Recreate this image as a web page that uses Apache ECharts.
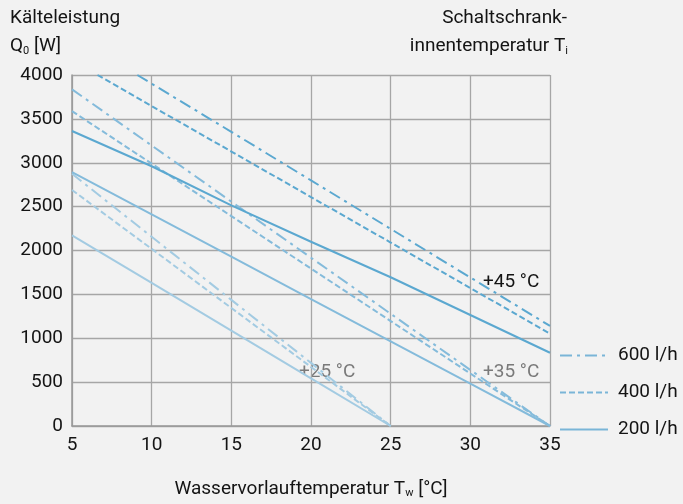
<!DOCTYPE html>
<html>
<head>
<meta charset="utf-8">
<script src="https://cdn.jsdelivr.net/npm/echarts@6/dist/echarts.min.js"></script>
<style>
  html, body { margin: 0; padding: 0; background: #f2f2f2; }
  #chart { width: 683px; height: 504px; }
</style>
</head>
<body>
<div id="chart"></div>
<script>
// Wasservorlauftemperatur [°C] / Kälteleistung [W], je Kurve [Tw, Q0]
var q45_600 = [[9.1, 4000], [15, 3352], [20, 2799], [25, 2246], [30, 1693], [35, 1140]];
var q45_400 = [[6.6, 4000], [10, 3646], [15, 3128], [20, 2609], [25, 2091], [30, 1572], [35, 1053]];
var q45_200 = [[5, 3362], [10, 2960], [15, 2515], [20, 2100], [25, 1695], [30, 1265], [35, 835]];
var q35_600 = [[5, 3836], [10, 3197], [15, 2557], [20, 1918], [25, 1279], [30, 639], [35, 0]];
var q35_400 = [[5, 3588], [10, 2990], [15, 2392], [20, 1794], [25, 1196], [30, 598], [35, 0]];
var q35_200 = [[5, 2893], [10, 2411], [15, 1929], [20, 1447], [25, 964], [30, 482], [35, 0]];
var q25_600 = [[5, 2874], [10, 2156], [15, 1437], [20, 719], [25, 0]];
var q25_400 = [[5, 2690], [10, 2018], [15, 1345], [20, 673], [25, 0]];
var q25_200 = [[5, 2173], [10, 1630], [15, 1087], [20, 543], [25, 0]];

var flowNames = ['600 l/h', '400 l/h', '200 l/h'];
var tempLabels = ['+25 °C', '+35 °C', '+45 °C'];

var FONT = 'Roboto, "DejaVu Sans", sans-serif';
var FS = 19;
var INK = '#141414';
var c45 = '#5ba8d0', c35 = '#84bbdb', c25 = '#a3cbe2', cLeg = '#7ab5d7';
var DASHDOT = [12, 5, 3, 5], DASH = [6, 3];
var subRich = { sub: { fontFamily: FONT, fontSize: 11, color: INK, verticalAlign: 'bottom', padding: [9, 0, 0, 0] } };

var myChart = echarts.init(document.getElementById('chart'), null, { renderer: 'canvas' });

function curve(name, data, color, type) {
    return {
        name: name, type: 'line', data: data, symbol: 'none', silent: true,
        lineStyle: { color: color, width: 2, type: type },
        itemStyle: { color: color }
    };
}

function label(pos, text, color) {
    var el = { type: 'text', top: pos.top, style: { text: text, font: FS + 'px ' + FONT, fill: color, rich: subRich } };
    if (pos.left != null) el.left = pos.left;
    if (pos.right != null) el.right = pos.right;
    return el;
}

var option = {
    backgroundColor: '#f2f2f2',
    animation: false,
    textStyle: { fontFamily: FONT },
    grid: { left: 72, right: 133, top: 75, bottom: 68 },
    legend: {
        orient: 'vertical', left: 554, top: 341,
        itemWidth: 48, itemHeight: 14, itemGap: 18,
        data: flowNames,
        itemStyle: { opacity: 0 },
        textStyle: { fontFamily: FONT, fontSize: FS, color: INK, padding: [0, 0, 0, 5] }
    },
    xAxis: {
        type: 'value', min: 5, max: 35, interval: 5,
        name: 'Wasservorlauftemperatur T{sub|w} [°C]',
        nameLocation: 'middle', nameGap: 53,
        nameTextStyle: { fontFamily: FONT, fontSize: FS, color: INK, rich: subRich },
        axisLine: { lineStyle: { color: '#999', width: 1.5 } },
        axisTick: { show: false },
        axisLabel: { fontFamily: FONT, fontSize: FS, color: INK, margin: 10 },
        splitLine: { lineStyle: { color: '#a6a6a6', width: 1.3 } }
    },
    yAxis: {
        type: 'value', min: 0, max: 4000, interval: 500,
        axisLine: { show: true, lineStyle: { color: '#999', width: 1.5 } },
        axisTick: { show: false },
        axisLabel: { fontFamily: FONT, fontSize: FS, color: INK, margin: 9, formatter: function (v) { return String(v); } },
        splitLine: { lineStyle: { color: '#a6a6a6', width: 1.3 } }
    },
    graphic: [
        label({ left: 10, top: 9 }, 'Kälteleistung', INK),
        label({ left: 10, top: 37 }, 'Q{sub|0} [W]', INK),
        label({ right: 116, top: 9 }, 'Schaltschrank-', INK),
        label({ right: 115, top: 37 }, 'innentemperatur T{sub|i}', INK),
        label({ left: 483, top: 273 }, tempLabels[2], INK),
        label({ left: 299, top: 363 }, tempLabels[0], '#7a7a7a'),
        label({ left: 483, top: 363 }, tempLabels[1], '#7a7a7a')
    ],
    series: [
        curve('25-200', q25_200, c25, 'solid'),
        curve('25-400', q25_400, c25, DASH),
        curve('25-600', q25_600, c25, DASHDOT),
        curve('35-200', q35_200, c35, 'solid'),
        curve('35-400', q35_400, c35, DASH),
        curve('35-600', q35_600, c35, DASHDOT),
        curve('45-200', q45_200, c45, 'solid'),
        curve('45-400', q45_400, c45, DASH),
        curve('45-600', q45_600, c45, DASHDOT),
        curve(flowNames[0], [], cLeg, DASHDOT),
        curve(flowNames[1], [], cLeg, DASH),
        curve(flowNames[2], [], cLeg, 'solid')
    ]
};

myChart.setOption(option);
</script>
</body>
</html>
